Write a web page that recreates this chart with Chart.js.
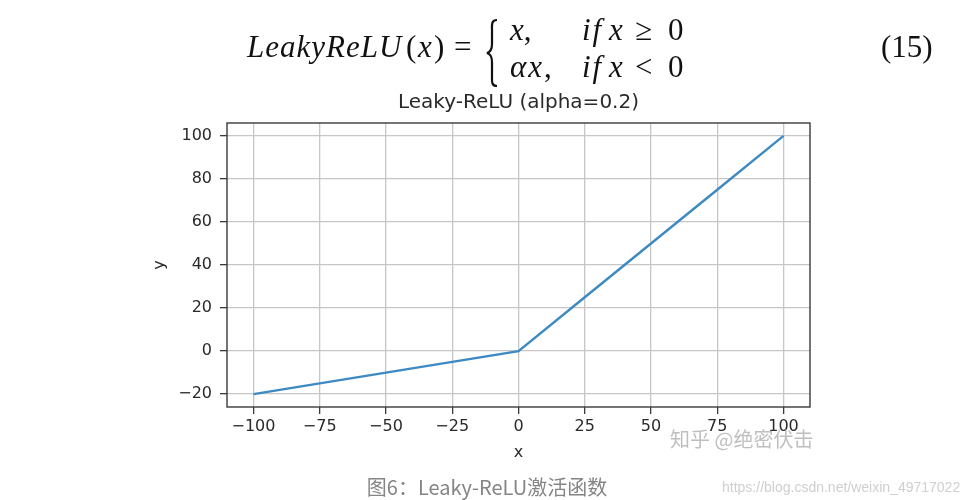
<!DOCTYPE html>
<html>
<head>
<meta charset="utf-8">
<script src="https://cdn.jsdelivr.net/npm/chart.js@4"></script>
<style>
  body { margin: 0; background: #fff; }
  #wrap { position: relative; width: 974px; height: 500px; overflow: hidden; }
  #chart { position: absolute; left: 0; top: 0; }
  .tex { position: absolute; font-family: "Liberation Serif", serif; font-size: 31px; line-height: 31px; color: #111; white-space: nowrap; }
  .caption { position: absolute; left: 0; width: 974px; top: 472px; text-align: center; font-family: "Noto Sans CJK SC", sans-serif; font-size: 20px; color: #858585; }
  .mark { position: absolute; left: 670px; top: 424px; font-family: "Noto Sans CJK SC", sans-serif; font-size: 20px; color: rgba(170, 170, 170, 0.75); }
  .url { position: absolute; left: 722px; top: 479px; font-family: "Liberation Sans", sans-serif; font-size: 14px; color: #cfcfcf; }
</style>
</head>
<body>
<div id="wrap">
  <canvas id="chart" width="974" height="500"></canvas>

  <!-- formula, placed piece by piece -->
  <div class="tex" style="left:247px; top:31px; letter-spacing:1px"><i>LeakyReLU</i></div>
  <div class="tex" style="left:406px; top:31px">(</div>
  <div class="tex" style="left:418px; top:31px"><i>x</i></div>
  <div class="tex" style="left:434px; top:31px">)</div>
  <div class="tex" style="left:454px; top:31px">=</div>
  <svg style="position:absolute; left:484px; top:18px" width="16" height="70">
    <path d="M13 2 C7 2 8 7 8 13 L8 26 C8 31 7 34 3 35 C7 36 8 39 8 44 L8 57 C8 63 7 68 13 68" fill="none" stroke="#111" stroke-width="2.2"/>
  </svg>

  <div class="tex" style="left:510px; top:14px"><i>x</i>,</div>
  <div class="tex" style="left:582px; top:14px; letter-spacing:2px"><i>if</i></div>
  <div class="tex" style="left:609px; top:14px"><i>x</i></div>
  <div class="tex" style="left:635px; top:14px">≥</div>
  <div class="tex" style="left:668px; top:14px">0</div>

  <div class="tex" style="left:510px; top:51px; letter-spacing:2px"><i>αx</i>,</div>
  <div class="tex" style="left:582px; top:51px; letter-spacing:2px"><i>if</i></div>
  <div class="tex" style="left:609px; top:51px"><i>x</i></div>
  <div class="tex" style="left:635px; top:51px">&lt;</div>
  <div class="tex" style="left:668px; top:51px">0</div>

  <div class="tex" style="left:881px; top:31px">(15)</div>

  <div class="mark">知乎 @绝密伏击</div>
  <div class="caption">图6：Leaky-ReLU激活函数</div>
  <div class="url">https://blog.csdn.net/weixin_49717022</div>
</div>

<script>
  // values
  const xValues = [-100, -75, -50, -25, 0, 25, 50, 75, 100];
  const yValues = [-20, -15, -10, -5, 0, 25, 50, 75, 100];
  const xTicks = [-100, -75, -50, -25, 0, 25, 50, 75, 100];
  const yTicks = [-20, 0, 20, 40, 60, 80, 100];
  const xRange = [-110, 110];
  const yRange = [-26, 106];

  const tickFont = { family: "DejaVu Sans", size: 16 };
  const minus = (v) => String(v).replace("-", "\u2212");

  const grid = { color: "#c6c6c6", lineWidth: 1.3, tickColor: "#3a3a3a", tickLength: 7, tickWidth: 1.3 };

  // matplotlib-style box around the plot
  const frame = {
    id: "frame",
    afterDatasetsDraw(chart) {
      const { ctx, chartArea: a } = chart;
      ctx.save();
      ctx.strokeStyle = "#3a3a3a";
      ctx.lineWidth = 1.4;
      ctx.strokeRect(a.left, a.top, a.right - a.left, a.bottom - a.top);
      ctx.restore();
    },
  };

  new Chart(document.querySelector("#chart"), {
    type: "line",
    data: {
      datasets: [{
        data: xValues.map((x, i) => ({ x, y: yValues[i] })),
        borderColor: "#3d89c2",
        borderWidth: 2.4,
        pointRadius: 0,
        tension: 0,
        fill: false,
      }],
    },
    options: {
      responsive: false,
      animation: false,
      devicePixelRatio: 1,
      layout: { padding: { left: 147, right: 164, top: 91, bottom: 38 } },
      plugins: {
        legend: { display: false },
        tooltip: { enabled: false },
        title: {
          display: true,
          text: "Leaky-ReLU (alpha=0.2)",
          fullSize: false,
          color: "#2a2a2a",
          font: { family: "DejaVu Sans", size: 20, weight: "normal" },
          padding: { top: 0, bottom: 8 },
        },
      },
      scales: {
        x: {
          type: "linear",
          min: xRange[0],
          max: xRange[1],
          afterBuildTicks: (s) => { s.ticks = xTicks.map((v) => ({ value: v })); },
          afterFit: (s) => { s.height = 55; },
          grid,
          border: { display: false },
          ticks: { color: "#2a2a2a", font: tickFont, padding: 3, autoSkip: false, maxRotation: 0, callback: minus },
          title: { display: true, text: "x", color: "#2a2a2a", font: tickFont, padding: { top: 0, bottom: 0 } },
        },
        y: {
          type: "linear",
          min: yRange[0],
          max: yRange[1],
          afterBuildTicks: (s) => { s.ticks = yTicks.map((v) => ({ value: v })); },
          afterFit: (s) => { s.width = 80; },
          grid,
          border: { display: false },
          ticks: { color: "#2a2a2a", font: tickFont, padding: 8, autoSkip: false, callback: minus },
          title: { display: true, text: "y", color: "#2a2a2a", font: tickFont, padding: { top: 3, bottom: 0 } },
        },
      },
    },
    plugins: [frame],
  });
</script>
</body>
</html>
